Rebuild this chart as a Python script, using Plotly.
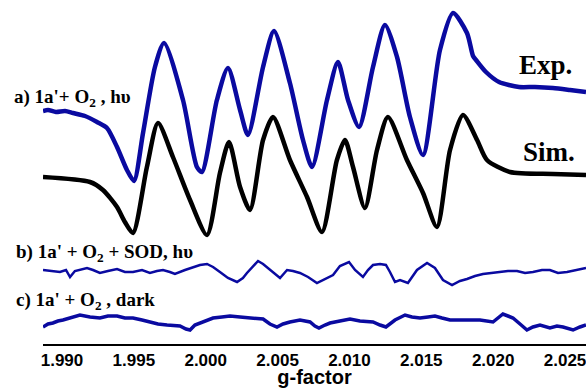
import plotly.graph_objects as go

# ---- data (g-factor vs. EPR intensity, arbitrary units, stacked offsets) ----
g_exp = [1.98868, 1.98903, 1.98958, 1.99021, 1.99077, 1.99160, 1.99244, 1.99313, 1.99383,
         1.99452, 1.99501, 1.99564, 1.99647,
         1.99710, 1.99842, 1.99939, 1.99974, 2.00078, 2.00155, 2.00239, 2.00294, 2.00399,
         2.00475, 2.00586, 2.00677, 2.00740, 2.00844, 2.00920, 2.00990, 2.01067, 2.01164,
         2.01247, 2.01331, 2.01421, 2.01512, 2.01630, 2.01721, 2.01818, 2.01860, 2.01881,
         2.01950, 2.02041, 2.02180, 2.02291, 2.02416, 2.02535, 2.02646]
i_exp = [233, 234, 232, 233, 231, 228, 222, 216, 197,
         174, 163, 211, 277,
         301, 244, 177, 172, 244, 276, 234, 209, 277,
         313, 261, 204, 177, 244, 282, 244, 217, 277,
         319, 287, 227, 189, 294, 331, 311, 288, 284,
         272, 262, 257, 257, 256, 254, 252]

g_sim = [1.98868, 1.99195, 1.99285, 1.99383, 1.99438, 1.99494, 1.99591, 1.99668, 1.99772,
         1.99891, 2.00009, 2.00099, 2.00162, 2.00239, 2.00308, 2.00399, 2.00468, 2.00586,
         2.00705, 2.00809, 2.00913, 2.00969, 2.01025, 2.01108, 2.01192, 2.01268, 2.01400,
         2.01512, 2.01609, 2.01700, 2.01790, 2.01888, 2.01957, 2.02117, 2.02416, 2.02646]
i_sim = [167, 162, 154, 137, 122, 111, 177, 221, 187,
         144, 109, 171, 202, 157, 134, 204, 227, 184,
         147, 112, 184, 204, 177, 136, 194, 227, 184,
         151, 117, 194, 229, 204, 184, 172, 170, 169]

g_sod = [1.98868, 1.98930, 1.98986, 1.99028, 1.99056, 1.99090, 1.99174, 1.99216, 1.99264,
         1.99320, 1.99383, 1.99438, 1.99494, 1.99557, 1.99612, 1.99661, 1.99703, 1.99751,
         1.99786, 1.99856, 1.99911, 1.99960, 2.00009, 2.00051, 2.00099, 2.00155, 2.00218,
         2.00259, 2.00287, 2.00322, 2.00364, 2.00399, 2.00447, 2.00489, 2.00517, 2.00566,
         2.00607, 2.00656, 2.00712, 2.00774, 2.00830, 2.00886, 2.00934, 2.00969, 2.00997,
         2.01039, 2.01094, 2.01129, 2.01164, 2.01213, 2.01254, 2.01282, 2.01317, 2.01352,
         2.01407, 2.01470, 2.01540, 2.01595, 2.01651, 2.01714, 2.01769, 2.01818, 2.01874,
         2.01929, 2.01992, 2.02048, 2.02103, 2.02166, 2.02222, 2.02277, 2.02340, 2.02395,
         2.02451, 2.02514, 2.02576, 2.02646]
i_sod = [74, 73, 72, 74, 67, 73, 76, 74, 71,
         73, 75, 72, 72, 74, 71, 73, 74, 72,
         70, 74, 77, 79, 80, 77, 72, 66, 62,
         66, 71, 76, 83, 80, 74, 69, 66, 74,
         73, 71, 67, 61, 65, 69, 78, 80, 82,
         74, 67, 74, 79, 80, 79, 72, 62, 64,
         61, 74, 81, 76, 64, 59, 63, 65, 68,
         70, 71, 72, 73, 73, 71, 72, 74, 74,
         71, 72, 74, 76]

g_dark = [1.98868, 1.98903, 1.98937, 1.98972, 1.99007, 1.99056, 1.99125, 1.99195, 1.99264,
          1.99320, 1.99383, 1.99438, 1.99494, 1.99557, 1.99612, 1.99668, 1.99731, 1.99786,
          1.99821, 1.99863, 1.99891, 1.99925, 1.99960, 2.00009, 2.00051, 2.00113, 2.00169,
          2.00239, 2.00308, 2.00357, 2.00399, 2.00447, 2.00496, 2.00538, 2.00586, 2.00656,
          2.00726, 2.00760, 2.00788, 2.00830, 2.00865, 2.00934, 2.01004, 2.01073, 2.01164,
          2.01213, 2.01254, 2.01317, 2.01387, 2.01435, 2.01491, 2.01547, 2.01595, 2.01644,
          2.01700, 2.01804, 2.01908, 2.01999, 2.02034, 2.02068, 2.02103, 2.02138, 2.02187,
          2.02235, 2.02277, 2.02326, 2.02395, 2.02444, 2.02486, 2.02556, 2.02604, 2.02646]
i_dark = [17, 20, 21, 23, 24, 26, 29, 27, 26,
          28, 28, 26, 26, 24, 22, 20, 19, 18,
          18, 15, 14, 19, 21, 24, 26, 27, 28,
          27, 26, 25, 25, 20, 17, 20, 22, 24,
          22, 18, 16, 19, 21, 23, 25, 23, 22,
          19, 17, 24, 29, 27, 26, 27, 28, 26,
          24, 24, 24, 22, 26, 30, 28, 26, 20,
          14, 17, 19, 16, 18, 17, 14, 17, 19]

tick_vals = [1.990, 1.995, 2.000, 2.005, 2.010, 2.015, 2.020, 2.025]
tick_text = ["1.990", "1.995", "2.000", "2.005", "2.010", "2.015", "2.020", "2.025"]

BLUE = "#0a0aa0"

fig = go.Figure()
fig.add_trace(go.Scatter(x=g_exp, y=i_exp, mode="lines",
                         line=dict(color=BLUE, width=4.5, shape="spline", smoothing=0.7)))
fig.add_trace(go.Scatter(x=g_sim, y=i_sim, mode="lines",
                         line=dict(color="black", width=4.5, shape="spline", smoothing=0.7)))
fig.add_trace(go.Scatter(x=g_sod, y=i_sod, mode="lines",
                         line=dict(color=BLUE, width=2.5)))
fig.add_trace(go.Scatter(x=g_dark, y=i_dark, mode="lines",
                         line=dict(color=BLUE, width=3.5)))

serif = "Liberation Serif"
lab_font = dict(family=serif, size=19, color="black", weight="bold")
big_font = dict(family=serif, size=27, color="black", weight="bold")

annotations = [
    dict(text="a) 1a'+ O<sub>2</sub> , hυ", x=-0.057, y=0.715, xanchor="left", yanchor="middle",
         font=lab_font),
    dict(text="b) 1a' + O<sub>2</sub> + SOD, hυ", x=-0.053, y=0.265, xanchor="left",
         yanchor="middle", font=lab_font),
    dict(text="c) 1a' + O<sub>2</sub> , dark", x=-0.053, y=0.125, xanchor="left",
         yanchor="middle", font=lab_font),
    dict(text="Exp.", x=0.926, y=0.811, xanchor="center", yanchor="middle", font=big_font),
    dict(text="Sim.", x=0.932, y=0.558, xanchor="center", yanchor="middle", font=big_font),
]
for a in annotations:
    a.update(xref="paper", yref="paper", showarrow=False)

fig.update_layout(
    width=586, height=388,
    margin=dict(l=43, r=0, t=0, b=44),
    paper_bgcolor="white", plot_bgcolor="white",
    showlegend=False,
    annotations=annotations,
    xaxis=dict(range=[1.98868, 2.02646], tickvals=tick_vals, ticktext=tick_text,
               showline=True, linecolor="black", linewidth=2, ticks="",
               showgrid=False, zeroline=False, ticklabeloverflow="allow",
               tickfont=dict(family="Liberation Sans", size=17, color="black", weight="bold"),
               title=dict(text="g-factor", standoff=2,
                          font=dict(family="Liberation Sans", size=20, color="black",
                                    weight="bold"))),
    yaxis=dict(range=[0, 344], visible=False, showgrid=False, zeroline=False),
)

fig.write_html("out.html", config={"displayModeBar": False})

# remove the default page margin so the figure fills the window exactly
with open("out.html", encoding="utf-8") as f:
    html = f.read()
html = html.replace("<body>", '<body style="margin:0;overflow:hidden">', 1)
html = html.replace("<head>", "<head><style>html,body{margin:0;padding:0;overflow:hidden}</style>", 1)
with open("out.html", "w", encoding="utf-8") as f:
    f.write(html)
